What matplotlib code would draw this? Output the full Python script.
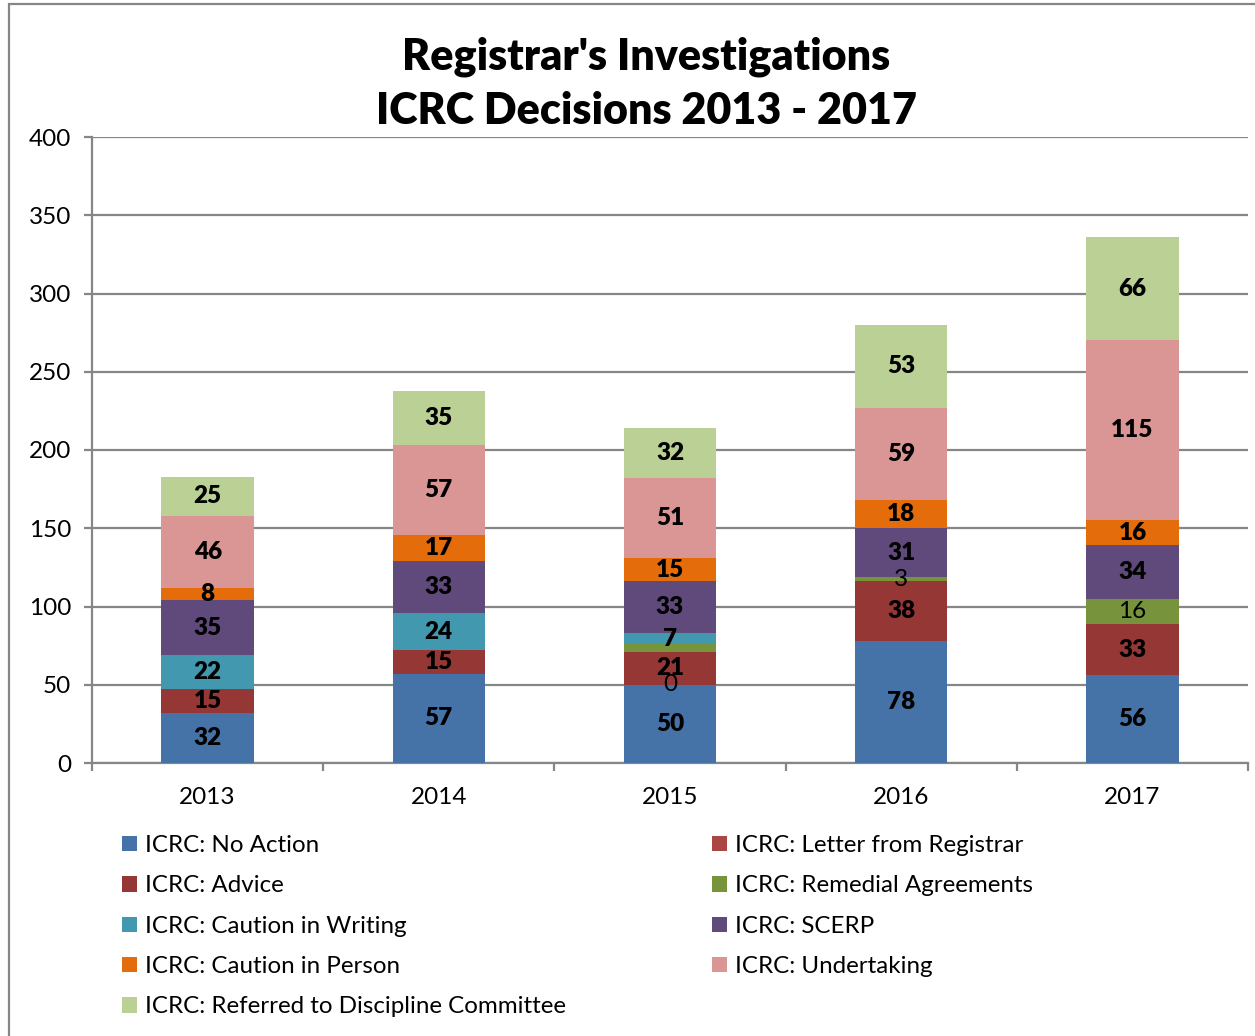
import matplotlib
import matplotlib.pyplot as plt
import numpy as np
from matplotlib.patches import Rectangle, Patch

matplotlib.rcParams.update({"font.family": ["Lato", "DejaVu Sans"]})

years = ["2013", "2014", "2015", "2016", "2017"]

# stacking order, bottom to top; None = no entry that year
series_names = [
    "ICRC: No Action",
    "ICRC: Letter from Registrar",
    "ICRC: Advice",
    "ICRC: Remedial Agreements",
    "ICRC: Caution in Writing",
    "ICRC: SCERP",
    "ICRC: Caution in Person",
    "ICRC: Undertaking",
    "ICRC: Referred to Discipline Committee",
]
no_action = [32, 57, 50, 78, 56]
letter = [None, None, 0, None, None]
advice = [15, 15, 21, 38, 33]
remedial = [None, None, 5, 3, 16]
caution_writing = [22, 24, 7, None, None]
scerp = [35, 33, 33, 31, 34]
caution_person = [8, 17, 15, 18, 16]
undertaking = [46, 57, 51, 59, 115]
referred = [25, 35, 32, 53, 66]

series_values = [no_action, letter, advice, remedial, caution_writing,
                 scerp, caution_person, undertaking, referred]
colors = ["#4572A7", "#AA4643", "#953735", "#77933C", "#4198AF",
          "#604A7B", "#E46C0A", "#D99694", "#BBD094"]
# light-weight labels for these two series, and one label not shown
plain_label = {"ICRC: Letter from Registrar", "ICRC: Remedial Agreements"}
hidden_labels = {("ICRC: Remedial Agreements", "2015")}

fig = plt.figure(figsize=(12.55, 10.36), dpi=100)
ax = fig.add_axes([92 / 1255, 1 - 763 / 1036, (1248 - 92) / 1255, (763 - 137) / 1036])

x = np.arange(len(years))
bottom = np.zeros(len(years))
handles = []
for name, vals, col in zip(series_names, series_values, colors):
    present = [v is not None for v in vals]
    h = np.array([v if v is not None else 0 for v in vals], dtype=float)
    xs = x[present]
    bars = ax.bar(xs, h[present], bottom=bottom[present], width=0.4, color=col,
                  edgecolor="none", zorder=3)
    labels = []
    for i, yr in enumerate(np.array(years)[present]):
        if (name, yr) in hidden_labels:
            labels.append("")
        else:
            labels.append("%d" % h[present][i])
    texts = ax.bar_label(bars, labels=labels, label_type="center", fontsize=17.5,
                         fontweight="normal" if name in plain_label else "heavy",
                         color="black")
    # keep labels above every bar segment
    for t in texts:
        t.set_zorder(6)
    bottom += h
    handles.append(Patch(facecolor=col, edgecolor="none"))

ax.set_xlim(-0.5, len(years) - 0.5)
ax.set_ylim(0, 400)
ax.set_yticks(np.arange(0, 401, 50))
ax.set_xticks(x)
ax.set_xticklabels(years)
ax.set_xticks(np.arange(-0.5, len(years), 1), minor=True)
ax.yaxis.grid(True, color="#868686", linewidth=1.6, zorder=0)
ax.set_axisbelow(True)
for side in ["top", "right"]:
    ax.spines[side].set_visible(False)
for side in ["left", "bottom"]:
    ax.spines[side].set_color("#868686")
    ax.spines[side].set_linewidth(1.6)
ax.tick_params(axis="y", length=6, width=1.6, color="#868686", labelsize=17.5, pad=9)
ax.tick_params(axis="x", which="major", length=0, labelsize=17.5, pad=17.5)
ax.tick_params(axis="x", which="minor", length=6, width=1.6, color="#868686")

fig.text(0.515, 1 - 84 / 1036,
         "Registrar's Investigations\nICRC Decisions 2013 - 2017",
         ha="center", va="center", fontsize=31, fontweight="heavy", linespacing=1.42)

# legend in two columns, filled row by row
left_idx = [0, 2, 4, 6, 8]
right_idx = [1, 3, 5, 7]
for idx, xpos in [(left_idx, 110 / 1255), (right_idx, 700 / 1255)]:
    fig.legend([handles[i] for i in idx], [series_names[i] for i in idx],
               loc="upper left", bbox_to_anchor=(xpos, 1 - 823 / 1036),
               frameon=False, fontsize=17.4, handlelength=0.6, handleheight=0.6,
               handletextpad=0.35, labelspacing=0.8, borderpad=0)

fig.patches.append(Rectangle((9 / 1255, -0.05), 1.2, 1.05 - 4 / 1036,
                             transform=fig.transFigure, fill=False,
                             edgecolor="#868686", linewidth=1.6))

fig.savefig("out.png", dpi=100, facecolor="white")
